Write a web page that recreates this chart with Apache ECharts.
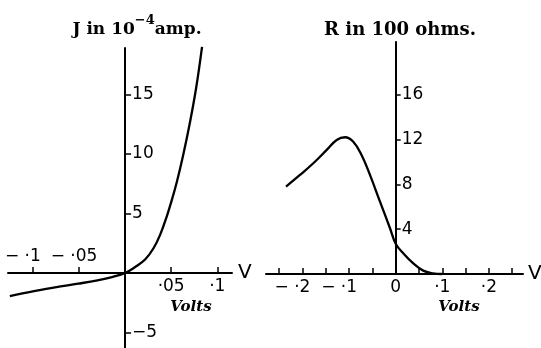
<!DOCTYPE html>
<html>
<head>
<meta charset="utf-8">
<script src="https://cdn.jsdelivr.net/npm/echarts@6/dist/echarts.min.js"></script>
<style>
  html, body { margin: 0; padding: 0; background: #fff; }
  #chart { width: 541px; height: 348px; }
</style>
</head>
<body>
<div id="chart"></div>
<script>
// left panel: current J (10^-4 amp) against volts
var jVolts = [-0.125, -0.1, -0.076, -0.051, -0.03, -0.013, 0, 0.011, 0.022, 0.031, 0.038, 0.045, 0.0506, 0.056, 0.063, 0.07, 0.077, 0.0835];
var jAmps  = [-1.95, -1.55, -1.2, -0.9, -0.62, -0.32, 0, 0.5, 1.15, 2.1, 3.2, 4.7, 6.1, 7.6, 9.9, 12.5, 15.5, 19.0];
var jYTicks = [-5, 5, 10, 15];
var jXTicksNeg = [-0.1, -0.05];
var jXTicksPos = [0.05, 0.1];

// right panel: resistance R (100 ohms) against volts
var rVolts = [-0.2354, -0.2054, -0.1768, -0.148, -0.1266, -0.1088, -0.091, -0.073, -0.0552, -0.0337, -0.0122, 0, 0.0163, 0.0378, 0.059, 0.08, 0.099];
var rOhms  = [7.8, 8.84, 9.88, 11.07, 11.96, 12.2, 11.8, 10.6, 8.84, 6.46, 4.08, 2.7, 1.85, 0.94, 0.3, 0.06, 0];
var rYTicks = [4, 8, 12, 16];
var rXTicks = [-0.25, -0.2, -0.15, -0.1, -0.05, 0.05, 0.1, 0.15, 0.2, 0.25];
var rXLabels = [-0.2, -0.1, 0, 0.1, 0.2];

function pair(xs, ys) {
  return xs.map(function (x, i) { return [x, ys[i]]; });
}
// 0.05 -> ·05 , -0.1 -> −·1 ; negatives get right padding so the minus hangs left of the tick
function voltLabel(v) {
  if (Math.abs(v) < 1e-9) return '0';
  var s = parseFloat(Math.abs(v).toFixed(2)).toString().replace(/^0\./, '·');
  if (v < 0) return (s.length > 2 ? '{n2|− ' : '{n1|− ') + s + '}';
  return s;
}

var sans = 'DejaVu Sans';
var serif = 'DejaVu Serif';
var ink = '#000';

var labelStyle = {
  color: ink, fontFamily: sans, fontSize: 17,
  rich: {
    n1: { color: ink, fontFamily: sans, fontSize: 17, padding: [0, 20, 0, 0] },
    n2: { color: ink, fontFamily: sans, fontSize: 17, padding: [0, 10, 0, 0] }
  }
};
var lineStyle = { color: ink, width: 2 };
var tickStyle = { color: ink, width: 1.5 };

// grid boxes; the axes are pushed in with offset so they cross at zero
var L = { left: 8, top: 48, width: 224, height: 300, xMin: -0.127, xMax: 0.116, yMin: -6.3, yMax: 18.9 };
var R = { left: 266, top: 42, width: 257, height: 232, xMin: -0.2783, xMax: 0.2732, yMin: 0, yMax: 20.7 };
function zeroX(g) { return g.left + (0 - g.xMin) / (g.xMax - g.xMin) * g.width; }
function zeroY(g) { return g.top + (g.yMax - 0) / (g.yMax - g.yMin) * g.height; }

var chart = echarts.init(document.getElementById('chart'));
chart.setOption({
  animation: false,
  backgroundColor: '#fff',
  grid: [
    { left: L.left, top: L.top, width: L.width, height: L.height, outerBoundsMode: 'none' },
    { left: R.left, top: R.top, width: R.width, height: R.height, outerBoundsMode: 'none' }
  ],
  xAxis: [
    {
      gridIndex: 0, type: 'value', min: L.xMin, max: L.xMax, position: 'bottom',
      offset: -(L.top + L.height - zeroY(L)),
      name: 'V', nameLocation: 'end', nameGap: 6,
      nameTextStyle: { color: ink, fontFamily: sans, fontSize: 20 },
      splitLine: { show: false },
      axisLine: { onZero: false, lineStyle: lineStyle },
      axisTick: { inside: true, length: 6, customValues: jXTicksNeg.concat(jXTicksPos), lineStyle: tickStyle },
      axisLabel: Object.assign({ margin: 5, customValues: jXTicksPos, formatter: voltLabel }, labelStyle)
    },
    {
      gridIndex: 0, type: 'value', min: L.xMin, max: L.xMax, position: 'top',
      offset: -(zeroY(L) - L.top),
      splitLine: { show: false },
      axisLine: { show: false, onZero: false },
      axisTick: { show: false },
      axisLabel: Object.assign({ margin: 8, customValues: jXTicksNeg, formatter: voltLabel }, labelStyle)
    },
    {
      gridIndex: 1, type: 'value', min: R.xMin, max: R.xMax, position: 'bottom',
      name: 'V', nameLocation: 'end', nameGap: 5,
      nameTextStyle: { color: ink, fontFamily: sans, fontSize: 20 },
      splitLine: { show: false },
      axisLine: { onZero: false, lineStyle: lineStyle },
      axisTick: { inside: true, length: 6, customValues: rXTicks, lineStyle: tickStyle },
      axisLabel: Object.assign({ margin: 5, customValues: rXLabels, formatter: voltLabel }, labelStyle)
    }
  ],
  yAxis: [
    {
      gridIndex: 0, type: 'value', min: L.yMin, max: L.yMax, position: 'right',
      offset: -(L.left + L.width - zeroX(L)),
      splitLine: { show: false },
      axisLine: { onZero: false, lineStyle: lineStyle },
      axisTick: { length: 6, customValues: jYTicks, lineStyle: tickStyle },
      axisLabel: Object.assign({ margin: 7, customValues: jYTicks, formatter: function (v) { return v < 0 ? '−' + (-v) : '' + v; } }, labelStyle)
    },
    {
      gridIndex: 1, type: 'value', min: R.yMin, max: R.yMax, position: 'right',
      offset: -(R.left + R.width - zeroX(R)),
      splitLine: { show: false },
      axisLine: { onZero: false, lineStyle: lineStyle },
      axisTick: { length: 5, customValues: rYTicks, lineStyle: tickStyle },
      axisLabel: Object.assign({ margin: 6, customValues: rYTicks }, labelStyle)
    }
  ],
  series: [
    {
      type: 'line', xAxisIndex: 0, yAxisIndex: 0, data: pair(jVolts, jAmps),
      smooth: 0.4, showSymbol: false, clip: false,
      lineStyle: { color: ink, width: 2.3 }
    },
    {
      type: 'line', xAxisIndex: 2, yAxisIndex: 1, data: pair(rVolts, rOhms),
      smooth: 0.4, showSymbol: false, clip: false,
      lineStyle: { color: ink, width: 2.3 }
    }
  ],
  graphic: [
    {
      type: 'text', x: 137, y: 26,
      style: {
        text: '{b|J in 10}{s|−4}{b|amp.}', align: 'center', verticalAlign: 'middle', fill: ink,
        rich: {
          b: { fontFamily: serif, fontWeight: 'bold', fontSize: 17, lineHeight: 24, verticalAlign: 'bottom', fill: ink },
          s: { fontFamily: serif, fontWeight: 'bold', fontSize: 13, lineHeight: 14, verticalAlign: 'top', fill: ink }
        }
      }
    },
    {
      type: 'text', x: 400, y: 30,
      style: { text: 'R in 100 ohms.', align: 'center', verticalAlign: 'middle', fill: ink,
        font: 'bold 18px "DejaVu Serif"' }
    },
    {
      type: 'text', x: 191, y: 307,
      style: { text: 'Volts', align: 'center', verticalAlign: 'middle', fill: ink,
        font: 'italic bold 15px "DejaVu Serif"' }
    },
    {
      type: 'text', x: 459, y: 307,
      style: { text: 'Volts', align: 'center', verticalAlign: 'middle', fill: ink,
        font: 'italic bold 15px "DejaVu Serif"' }
    }
  ]
});
</script>
</body>
</html>
